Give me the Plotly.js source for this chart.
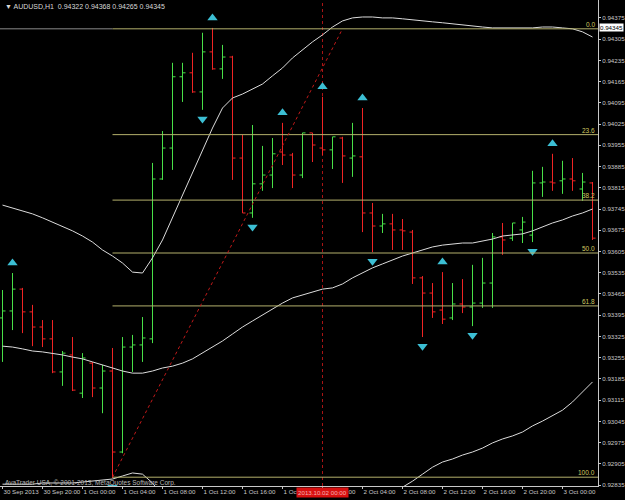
<!DOCTYPE html>
<html>
<head>
<meta charset="utf-8">
<script src="https://cdn.plot.ly/plotly-3.0.1.min.js"></script>
<style>html,body{margin:0;padding:0;background:#000;}#chart{width:625px;height:500px;}</style>
</head>
<body>
<div id="chart"></div>
<script>
// ---- DATA (AUDUSD H1, bars from 30 Sep 2013 16:00) ----
const open = [0.93386,0.93409,0.93481,0.93406,0.93356,0.93317,0.93208,0.93264,0.93138,0.93237,
0.93155,0.93211,0.92944,0.93290,0.93297,0.93317,0.93844,0.93946,0.94181,0.94194,
0.94131,0.94263,0.94207,0.94246,0.93913,0.93732,0.93828,0.93857,0.93933,0.93923,
0.93857,0.93996,0.93946,0.93940,0.93979,0.93913,0.93917,0.93732,0.93689,0.93696,
0.93676,0.93669,0.93518,0.93468,0.93412,0.93386,0.93432,0.93422,0.93435,0.93501,
0.93653,0.93649,0.93676,0.93659,0.93831,0.93834,0.93838,0.93844,0.93811,0.93831];
const high = [0.93478,0.93534,0.93485,0.93429,0.93379,0.93379,0.93277,0.93323,0.93270,0.93241,
0.93231,0.93287,0.93323,0.93330,0.93389,0.93897,0.94002,0.94227,0.94227,0.94260,
0.94326,0.94342,0.94286,0.94250,0.93989,0.94022,0.93953,0.93979,0.94029,0.93930,
0.93996,0.93996,0.94115,0.93983,0.93983,0.94029,0.94078,0.93765,0.93729,0.93729,
0.93712,0.93676,0.93524,0.93501,0.93537,0.93501,0.93514,0.93561,0.93584,0.93666,
0.93699,0.93699,0.93719,0.93871,0.93884,0.93927,0.93904,0.93913,0.93864,0.93834];
const low = [0.93241,0.93346,0.93336,0.93293,0.93290,0.93204,0.93162,0.93145,0.93122,0.93125,
0.93072,0.92858,0.92940,0.93208,0.93241,0.93303,0.93841,0.93874,0.94098,0.94128,
0.94072,0.94204,0.94174,0.93841,0.93732,0.93716,0.93805,0.93814,0.93890,0.93814,
0.93847,0.93900,0.93923,0.93877,0.93831,0.93851,0.93669,0.93603,0.93666,0.93610,
0.93610,0.93498,0.93323,0.93386,0.93366,0.93379,0.93402,0.93359,0.93419,0.93419,
0.93594,0.93640,0.93633,0.93636,0.93785,0.93805,0.93795,0.93805,0.93772,0.93643];
const close = [0.93409,0.93481,0.93406,0.93356,0.93317,0.93208,0.93270,0.93148,0.93254,0.93155,
0.93211,0.92944,0.93290,0.93297,0.93320,0.93844,0.93946,0.94181,0.94194,0.94131,
0.94263,0.94207,0.94246,0.93913,0.93732,0.93828,0.93857,0.93927,0.93923,0.93857,
0.93996,0.93956,0.93940,0.93983,0.93920,0.93920,0.93732,0.93689,0.93696,0.93676,
0.93673,0.93518,0.93468,0.93406,0.93382,0.93432,0.93422,0.93435,0.93501,0.93653,
0.93643,0.93699,0.93702,0.93831,0.93834,0.93831,0.93844,0.93838,0.93834,0.93649];

const bbUpper = [0.93758,0.93749,0.93739,0.93729,0.93716,0.93702,0.93686,0.93673,0.93656,0.93636,
0.93610,0.93590,0.93567,0.93537,0.93534,0.93584,0.93643,0.93716,0.93795,0.93864,
0.93936,0.94012,0.94078,0.94111,0.94124,0.94141,0.94157,0.94184,0.94210,0.94243,
0.94270,0.94296,0.94319,0.94345,0.94365,0.94375,0.94378,0.94378,0.94375,0.94375,
0.94372,0.94368,0.94365,0.94362,0.94359,0.94355,0.94352,0.94349,0.94345,0.94342,
0.94342,0.94342,0.94342,0.94342,0.94345,0.94345,0.94342,0.94339,0.94329,0.94312];
const bbMiddle = [0.93293,0.93290,0.93284,0.93277,0.93274,0.93270,0.93264,0.93257,0.93251,0.93241,
0.93231,0.93221,0.93211,0.93204,0.93204,0.93211,0.93221,0.93227,0.93237,0.93251,
0.93270,0.93290,0.93310,0.93333,0.93356,0.93376,0.93396,0.93415,0.93435,0.93452,
0.93462,0.93471,0.93481,0.93485,0.93498,0.93518,0.93534,0.93551,0.93564,0.93577,
0.93590,0.93600,0.93610,0.93620,0.93626,0.93630,0.93633,0.93633,0.93640,0.93646,
0.93656,0.93659,0.93663,0.93673,0.93686,0.93699,0.93709,0.93722,0.93732,0.93745];
const bbLower = [0.92838,0.92838,0.92838,0.92838,0.92842,0.92842,0.92842,0.92842,0.92845,0.92848,
0.92852,0.92855,0.92865,0.92875,0.92871,0.92842,0.92799,0.92739,0.92680,0.92637,
0.92604,0.92568,0.92542,0.92555,0.92588,0.92611,0.92634,0.92647,0.92660,0.92660,
0.92654,0.92647,0.92644,0.92624,0.92631,0.92660,0.92690,0.92723,0.92769,0.92802,
0.92828,0.92848,0.92871,0.92894,0.92911,0.92921,0.92934,0.92944,0.92957,0.92974,
0.92987,0.92997,0.93010,0.93030,0.93046,0.93063,0.93082,0.93109,0.93142,0.93175];

const fractalUp = [1, 21, 28, 32, 36, 44, 55];
const fractalDown = [11, 20, 25, 37, 42, 47, 53];

const fibHigh = 0.94339, fibLow = 0.92861;
const fibStartBar = 11, fibEndBar = 34;
const fibLevels = [0, 23.6, 38.2, 50, 61.8, 100];
const fibLabels = ["0.0", "23.6", "38.2", "50.0", "61.8", "100.0"];

const xTickBars = [0, 4, 8, 12, 16, 20, 24, 28, 32, 36, 40, 44, 48, 52, 56];
const xTickText = ["30 Sep 2013", "30 Sep 20:00", "1 Oct 00:00", "1 Oct 04:00", "1 Oct 08:00",
  "1 Oct 12:00", "1 Oct 16:00", "1 Oct 20:00", "2 Oct 00:00", "2 Oct 04:00", "2 Oct 08:00",
  "2 Oct 12:00", "2 Oct 16:00", "2 Oct 20:00", "3 Oct 00:00"];
const yTicks = [0.92835,0.92905,0.92975,0.93045,0.93115,0.93185,0.93255,0.93325,0.93395,0.93465,
  0.93535,0.93605,0.93675,0.93745,0.93815,0.93885,0.93955,0.94025,0.94095,0.94165,0.94235,0.94305,0.94375];

const crosshairBar = 32;
const crosshairText = "2013.10.02 00:00";
const currentPrice = 0.94345;
const titleText = "\u25BC AUDUSD,H1  0.94322 0.94368 0.94265 0.94345";
const copyright = "AvaTrader USA, \u00A9 2001-2013, MetaQuotes Software Corp.";

// ---- STYLE ----
const FONT = "Liberation Sans, Arial, sans-serif";
const AX = "#c8c8c8";
const FIB = "#b4b06c";
const ARROW_UP_GAP = 0.00033, ARROW_DN_GAP = 0.00030;
const xIdx = open.map((_, i) => i);
const X0 = -0.25, X1 = 59.55;

const traces = [
  {type: 'scatter', mode: 'lines', x: xIdx, y: bbUpper, line: {color: '#dcdcdc', width: 1}, hoverinfo: 'skip'},
  {type: 'scatter', mode: 'lines', x: xIdx, y: bbMiddle, line: {color: '#dcdcdc', width: 1}, hoverinfo: 'skip'},
  {type: 'scatter', mode: 'lines', x: xIdx, y: bbLower, line: {color: '#dcdcdc', width: 1}, hoverinfo: 'skip'},
  {type: 'ohlc', x: xIdx, open: open, high: high, low: low, close: close, tickwidth: 0.3,
   increasing: {line: {color: '#48e048', width: 1}}, decreasing: {line: {color: '#f02424', width: 1}}, hoverinfo: 'skip'},
  {type: 'scatter', mode: 'markers', x: fractalUp, y: fractalUp.map(i => high[i] + ARROW_UP_GAP),
   marker: {symbol: 'triangle-up', size: 9, color: '#3cbfd4'}, hoverinfo: 'skip'},
  {type: 'scatter', mode: 'markers', x: fractalDown, y: fractalDown.map(i => low[i] - ARROW_DN_GAP),
   marker: {symbol: 'triangle-down', size: 9, color: '#3cbfd4'}, hoverinfo: 'skip'}
];

const fibPrice = l => fibHigh - (fibHigh - fibLow) * l / 100;
const shapes = [];
fibLevels.forEach(l => {
  shapes.push({type: 'line', xref: 'x', yref: 'y', x0: fibStartBar, x1: X1, y0: fibPrice(l), y1: fibPrice(l),
    line: {color: FIB, width: 1}});
});
shapes.push({type: 'line', xref: 'x', yref: 'y', x0: X0, x1: fibStartBar, y0: fibHigh, y1: fibHigh,
  line: {color: '#8a8a8a', width: 1}});
shapes.push({type: 'line', xref: 'x', yref: 'y', x0: fibStartBar, x1: fibEndBar, y0: fibLow, y1: fibHigh,
  line: {color: '#c01a1a', width: 1, dash: 'dot'}});
shapes.push({type: 'line', xref: 'x', yref: 'paper', x0: crosshairBar, x1: crosshairBar, y0: 0, y1: 1,
  line: {color: '#a81414', width: 1, dash: 'dot'}, layer: 'below'});

const annotations = fibLabels.map((t, k) => ({
  xref: 'paper', yref: 'y', x: 1, y: fibPrice(fibLevels[k]), xanchor: 'right', yanchor: 'bottom',
  xshift: -1, yshift: -1, text: t, showarrow: false, font: {family: FONT, size: 6.5, color: '#d0c860'}
}));
annotations.push({xref: 'paper', yref: 'paper', x: 0, y: 1, xanchor: 'left', yanchor: 'top', xshift: 3, yshift: -1,
  text: titleText, showarrow: false, font: {family: FONT, size: 7, color: '#d8d8d8'}});
annotations.push({xref: 'paper', yref: 'paper', x: 0, y: 0, xanchor: 'left', yanchor: 'bottom', xshift: 3, yshift: -3,
  text: copyright, showarrow: false, font: {family: FONT, size: 6.5, color: '#b8b8b8'}});
annotations.push({xref: 'paper', yref: 'y', x: 1, y: currentPrice, xanchor: 'left', yanchor: 'middle', xshift: 1,
  text: currentPrice.toFixed(5), showarrow: false, bgcolor: '#ffffff', borderpad: 0,
  font: {family: FONT, size: 6.2, color: '#000000'}});
annotations.push({xref: 'x', yref: 'paper', x: crosshairBar, y: 0, xanchor: 'center', yanchor: 'top', yshift: -1,
  text: crosshairText, showarrow: false, bgcolor: '#d81010', borderpad: 1,
  font: {family: FONT, size: 6.2, color: '#f4b0b0'}});

const layout = {
  width: 625, height: 500,
  margin: {l: 0, r: 27, t: 0, b: 14, pad: 0},
  paper_bgcolor: '#000000', plot_bgcolor: '#000000',
  showlegend: false,
  xaxis: {range: [X0, X1], tickvals: xTickBars, ticktext: xTickText, showgrid: false, zeroline: false,
    showline: true, linecolor: AX, linewidth: 1, ticks: 'outside', ticklen: 2, tickcolor: AX,
    ticklabelposition: 'outside right', tickangle: 0,
    tickfont: {family: FONT, size: 6.2, color: AX}, rangeslider: {visible: false}, fixedrange: true},
  yaxis: {range: [0.92832, 0.94434], side: 'right', tickvals: yTicks, ticktext: yTicks.map(v => v.toFixed(5)),
    showgrid: false, zeroline: false, showline: true, linecolor: AX, linewidth: 1, ticks: 'outside',
    ticklen: 2, tickcolor: AX, tickfont: {family: FONT, size: 6.2, color: AX}, fixedrange: true},
  shapes: shapes,
  annotations: annotations
};

Plotly.newPlot('chart', traces, layout, {displayModeBar: false, staticPlot: true});
</script>
</body>
</html>
